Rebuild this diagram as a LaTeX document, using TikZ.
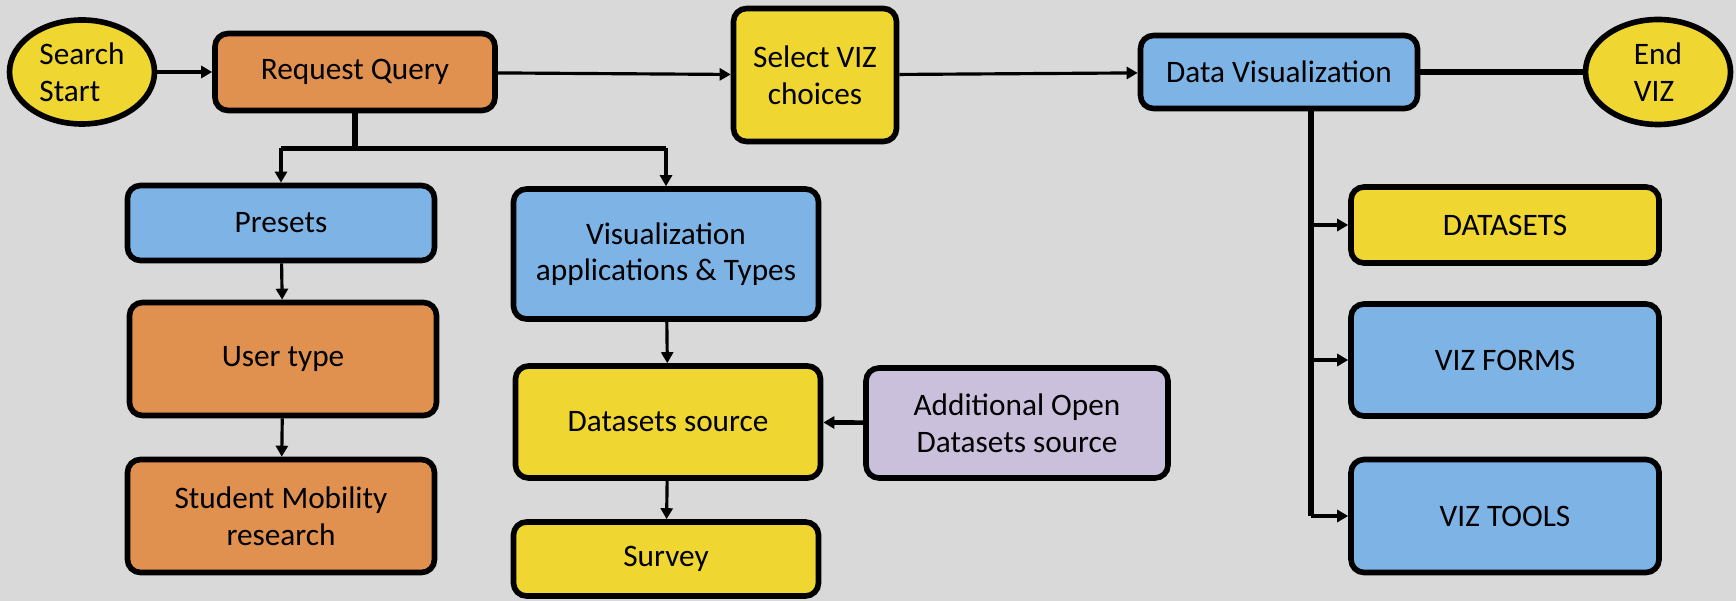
\documentclass[tikz,border=0pt]{standalone}
\usepackage{fontspec}
\setmainfont{Carlito}
\usetikzlibrary{shapes.geometric, arrows.meta}
\definecolor{query-orange}{HTML}{E0914F}
\definecolor{viz-blue}{HTML}{7EB3E6}
\definecolor{viz-yellow}{HTML}{EFD630}
\definecolor{open-lilac}{HTML}{CBC0DB}
\definecolor{canvas-grey}{HTML}{D9D9D9}

\begin{document}
\begin{tikzpicture}[
    font=\fontsize{8.9}{10.4}\selectfont,
    box/.style={draw, line width=1.6pt, rounded corners=1.3mm, align=center, inner sep=0pt},
    oval/.style={draw, ellipse, line width=1.6pt, align=left, inner sep=0pt},
    link/.style={-{Triangle[length=1.1mm, width=1.2mm]}, line width=0.9pt},
    trunk/.style={line width=1.5pt}]
    % Search flow: query branch on the left, viz outputs on the right.
    % Coordinates: (x, y), 1 px of the sheet = 0.1 mm
    %   sheet 17.36cm x 6.01cm, top row at y=-0.72
    %   query split at y=-1.46, viz trunk x=13.1
    \fill[canvas-grey] (0,0) rectangle (17.36,-6.01);
    \useasboundingbox (0,0) rectangle (17.36,-6.01);

    % top row
    \node[oval, fill=viz-yellow, minimum width=1.45cm, minimum height=1.04cm]
          (start) at (0.82,-0.72) {Search\\Start};
    \node[box, fill=query-orange, minimum width=2.80cm, minimum height=0.77cm]
          (request) at (3.55,-0.72) {Request Query};
    \node[box, fill=viz-yellow, minimum width=1.63cm, minimum height=1.33cm]
          (select) at (8.15,-0.75) {Select VIZ\\choices};
    \node[box, fill=viz-blue, minimum width=2.77cm, minimum height=0.73cm]
          (dataviz) at (12.79,-0.72) {Data Visualization};
    \node[oval, fill=viz-yellow, minimum width=1.45cm, minimum height=1.05cm]
          (endviz) at (16.58,-0.72) {End\\VIZ};

    % query branch
    \node[box, fill=viz-blue, minimum width=3.07cm, minimum height=0.75cm]
          (presets) at (2.81,-2.23) {Presets};
    \node[box, fill=query-orange, minimum width=3.07cm, minimum height=1.13cm]
          (usertype) at (2.83,-3.59) {User type};
    \node[box, fill=query-orange, minimum width=3.07cm, minimum height=1.13cm]
          (mobility) at (2.81,-5.16) {Student Mobility\\research};
    \node[box, fill=viz-blue, minimum width=3.05cm, minimum height=1.30cm]
          (vizapps) at (6.66,-2.54) {Visualization\\applications \& Types};
    \node[box, fill=viz-yellow, minimum width=3.05cm, minimum height=1.12cm]
          (dsource) at (6.68,-4.22) {Datasets source};
    \node[box, fill=viz-yellow, minimum width=3.05cm, minimum height=0.74cm]
          (survey) at (6.66,-5.59) {Survey};
    \node[box, fill=open-lilac, minimum width=3.02cm, minimum height=1.10cm]
          (opensrc) at (10.17,-4.23) {Additional Open\\Datasets source};

    % viz outputs
    \node[box, fill=viz-yellow, minimum width=3.08cm, minimum height=0.76cm]
          (datasets) at (15.05,-2.25) {DATASETS};
    \node[box, fill=viz-blue, minimum width=3.08cm, minimum height=1.12cm]
          (vizforms) at (15.05,-3.60) {VIZ FORMS};
    \node[box, fill=viz-blue, minimum width=3.08cm, minimum height=1.13cm]
          (viztools) at (15.05,-5.16) {VIZ TOOLS};

    % connectors, top row
    \draw[link] (start) -- (request);
    \draw[link] (request) -- (select);
    \draw[link] (select) -- (dataviz);
    \draw[trunk] (dataviz) -- (endviz);

    % split below the query
    \coordinate (qsplit) at ([yshift=-3.5mm]request.south);
    \draw[trunk] (request.south) -- (qsplit);
    \draw[trunk] (presets.north |- qsplit) -- (vizapps.north |- qsplit);
    \draw[link] (presets.north |- qsplit) -- (presets.north);
    \draw[link] (vizapps.north |- qsplit) -- (vizapps.north);
    \draw[link] (presets) -- (usertype);
    \draw[link] (usertype) -- (mobility);
    \draw[link] (vizapps) -- (dsource);
    \draw[link] (dsource) -- (survey);
    \draw[link, line width=1.3pt] (opensrc) -- (dsource);

    % trunk below data visualization
    \coordinate (vtop) at ([xshift=3.2mm]dataviz.south);
    \coordinate (vend) at (vtop |- viztools.west);
    \draw[trunk] (vtop) -- (vend);
    \draw[link] (vtop |- datasets.west) -- (datasets.west);
    \draw[link] (vtop |- vizforms.west) -- (vizforms.west);
    \draw[link] (vend) -- (viztools.west);
\end{tikzpicture}
\end{document}
